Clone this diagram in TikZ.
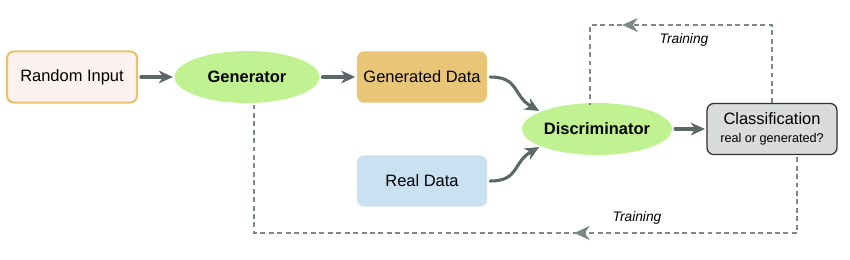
\documentclass[tikz,border=0pt]{standalone}
\usepackage{fontspec}
\setmainfont{Liberation Sans}
\usetikzlibrary{arrows.meta,calc,decorations.markings,shapes.geometric}

\definecolor{edgegray}{HTML}{5C6868}
\definecolor{dashgray}{HTML}{7D8989}
\definecolor{blobgreen}{HTML}{C0F291}
\definecolor{gendata}{HTML}{E9C677}
\definecolor{realdata}{HTML}{C9E1F1}
\definecolor{clsgray}{HTML}{D9DCDB}
\definecolor{inborder}{HTML}{E8C26C}
\definecolor{infill}{HTML}{FBF2EF}

\tikzset{
  databox/.style={rectangle, rounded corners=5pt, minimum width=3.25cm, minimum height=1.28cm,
    font=\fontsize{11.7}{14}\selectfont},
  inbox/.style={databox, draw=inborder, line width=1.5pt, fill=infill},
  blob/.style={ellipse, fill=blobgreen, minimum width=3.62cm, minimum height=1.3cm, inner sep=0pt,
    font=\fontsize{11.7}{14}\selectfont\bfseries},
  clsbox/.style={databox, draw=black!80, line width=0.9pt, fill=clsgray, align=center},
  flow/.style={line width=2.2pt, draw=edgegray, line cap=round,
    -{Stealth[length=10pt,width=9pt,inset=3pt]}, shorten <=2pt, shorten >=1pt},
  train/.style={line width=1.6pt, draw=dashgray, dash pattern=on 3.5pt off 2.5pt},
  midhead/.style={postaction={decorate, decoration={markings,
    mark=at position #1 with {\arrow[dashgray]{Stealth[length=11pt,width=10pt,inset=3.5pt]}}}}},
  trainlbl/.style={font=\fontsize{9.8}{12}\selectfont\itshape}
}

\begin{document}
\begin{tikzpicture}[x=0.025cm, y=0.025cm]
  \useasboundingbox (0,0) rectangle (850,-259);
  % Top row
  \node[inbox] (rand) at (72,-77) {Random Input};
  \node[blob] (gen) at (247,-77) {Generator};
  \node[databox, fill=gendata] (gdat) at (422,-77) {Generated Data};
  % Real samples
  \node[databox, fill=realdata] (rdat) at (422,-181) {Real Data};
  % Discriminator and its output
  \node[blob] (disc) at (597,-129) {Discriminator};
  \node[clsbox] (cls) at (772,-129) {Classification\\[-1pt]{\fontsize{9}{11}\selectfont real or generated?}};
  % Forward arrows
  \draw[flow] (rand) -- (gen);
  \draw[flow] (gen) -- (gdat);
  \draw[flow] (gdat.east) to[out=0, in=150, looseness=1.3] (disc.163);
  \draw[flow] (rdat.east) to[out=0, in=-150, looseness=1.3] (disc.197);
  \draw[flow] (disc) -- (cls);
  % Training loops
  \coordinate (ttop) at (772,-25);
  \coordinate (tbot) at (797,-233);
  \draw[train, midhead=0.67] (cls.north) -- (ttop) -| ($(disc.north)+(-7,-2)$);
  \draw[train, midhead=0.40] ($(cls.south)+(25,-2)$) -- (tbot) -| ($(gen.south)+(7,-2)$);
  \node[trainlbl] (ltop) at (684,-40) {Training};
  \node[trainlbl] (lbot) at (637,-218) {Training};
\end{tikzpicture}
\end{document}
